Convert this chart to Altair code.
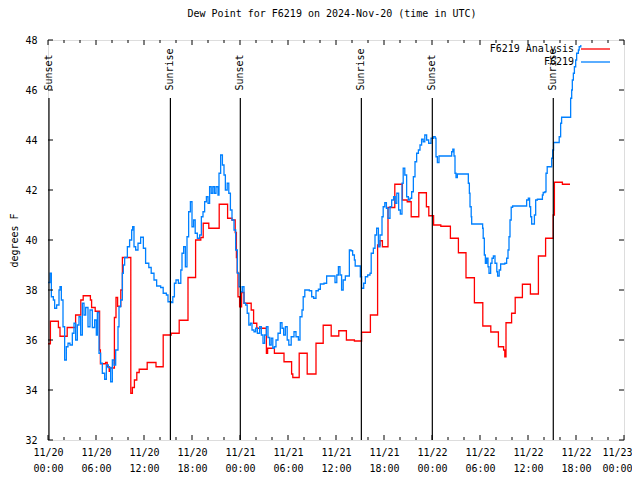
import altair as alt
import pandas as pd

# ---- data (hours since 2024-11-20 00:00 UTC, degrees F) ----
analysis_h = [0.0, 0.3, 1.3, 1.5, 2.4, 3.45, 4.1, 4.4, 5.3, 5.45, 5.9, 6.45, 6.55, 7.2, 7.4, 7.65, 7.8,
              8.3, 8.5, 8.7, 9.1, 9.3, 10.35, 10.55, 10.8, 11.1, 11.4, 12.4, 13.5, 14.4, 15.4, 16.4,
              17.5, 18.45, 19.1, 19.4, 20.1, 21.4, 22.45, 23.0, 23.4, 23.55, 23.65, 23.75, 23.95, 24.2,
              24.5, 25.4, 25.7, 26.1, 27.3, 27.45, 28.3, 29.5, 30.45, 30.6, 31.4, 32.4, 33.5, 34.4,
              35.4, 36.35, 37.3, 38.3, 39.2, 40.3, 41.2, 41.5, 41.8, 42.5, 43.35, 44.3, 44.9, 45.4,
              46.35, 47.3, 47.6, 48.2, 49.1, 50.3, 51.3, 52.25, 53.3, 54.35, 55.35, 56.3, 56.95,
              57.1, 57.25, 57.95, 58.4, 59.3, 60.3, 61.3, 62.2, 63.15, 63.3, 64.3, 65.25]
analysis_v = [35.85, 36.75, 36.5, 36.15, 36.5, 37.0, 37.6, 37.77, 37.6, 37.3, 37.15, 35.6, 35.05, 35.1,
              34.93, 34.75, 34.88, 36.9, 37.7, 37.35, 38.0, 39.3, 33.87, 34.1, 34.4, 34.7, 34.83, 35.1,
              34.93, 36.2, 36.27, 36.79, 38.5, 40.0, 40.1, 40.67, 40.47, 41.43, 40.87, 40.8, 40.3,
              39.3, 38.7, 37.73, 37.33, 37.9, 37.47, 37.2, 36.67, 36.47, 35.47, 35.67, 35.47, 35.13,
              34.64, 34.5, 35.47, 34.64, 35.87, 36.59, 36.16, 36.37, 36.0, 35.96, 36.31, 37.0, 39.8,
              39.97, 39.73, 41.3, 42.23, 41.6, 41.53, 40.93, 41.89, 41.33, 40.97, 40.6, 40.55, 40.07,
              39.49, 38.49, 37.49, 36.56, 36.32, 35.73, 35.6, 35.33, 36.69, 37.07, 37.7, 38.23, 37.84,
              39.36, 40.07, 41.0, 42.31, 42.23, 42.23]

station_h = [0.0, 0.25, 0.42, 0.67, 0.83, 1.08, 1.375, 1.5, 1.67, 1.875, 2.08, 2.29, 2.5, 2.75, 3.04,
             3.25, 3.46, 3.67, 3.875, 4.08, 4.29, 4.5, 4.71, 5.0, 5.25, 5.54, 5.83, 6.04, 6.17, 6.375,
             6.58, 6.79, 7.08, 7.29, 7.54, 7.83, 8.04, 8.25, 8.46, 8.75, 8.875, 9.08, 9.29, 9.42, 9.58,
             9.92, 10.2, 10.46, 10.58, 10.75, 10.96, 11.25, 11.58, 11.92, 12.2, 12.6, 12.9, 13.25,
             13.58, 14.08, 14.4, 14.8, 15.0, 15.4, 15.6, 15.8, 16.0, 16.3, 16.6, 16.75, 16.96, 17.17,
             17.375, 17.58, 17.8, 18.0, 18.2, 18.4, 18.67, 18.96, 19.17, 19.375, 19.58, 19.8, 20.0,
             20.2, 20.4, 20.6, 20.8, 21.0, 21.25, 21.375, 21.58, 21.8, 22.0, 22.17, 22.4, 22.6, 22.8,
             23.0, 23.25, 23.46, 23.67, 23.875, 24.08, 24.3, 24.5, 24.7, 24.9, 25.1, 25.3, 25.5,
             25.75, 25.96, 26.17, 26.46, 26.67, 26.875, 27.08, 27.3, 27.5, 27.7, 27.9, 28.1, 28.3,
             28.5, 28.75, 29.04, 29.25, 29.46, 29.67, 29.9, 30.1, 30.4, 30.75, 31.0, 31.3, 31.5,
             31.75, 31.9, 32.1, 32.67, 32.96, 33.2, 33.5, 33.8, 34.04, 34.5, 34.83, 35.6, 35.875,
             36.1, 36.3, 36.5, 36.7, 36.9, 37.17, 37.46, 37.67, 37.875, 38.08, 38.3, 38.4, 38.9,
             39.04, 39.2, 39.46, 39.67, 39.96, 40.25, 40.4, 40.67, 40.875, 41.08, 41.3, 41.5, 41.75,
             41.9, 42.1, 42.3, 42.5, 42.75, 42.96, 43.2, 43.4, 43.6, 43.83, 44.04, 44.25, 44.4, 44.6,
             44.83, 45.04, 45.25, 45.46, 45.67, 45.875, 46.08, 46.3, 46.5, 46.7, 46.9, 47.1, 47.33,
             47.58, 47.875, 48.17, 48.4, 48.5, 48.67, 48.875, 50.46, 50.6, 50.75, 50.875, 51.0,
             51.17, 52.54, 52.67, 52.75, 52.9, 52.96, 54.33, 54.4, 54.54, 54.67, 54.83, 55.0,
             55.125, 55.33, 55.5, 55.67, 55.875, 56.1, 56.2, 56.4, 56.58, 57.1, 57.33, 57.5, 57.625,
             57.75, 57.9, 58.08, 59.6, 59.83, 60.04, 60.2, 60.33, 60.46, 60.8, 60.96, 61.17, 61.8,
             61.9, 62.125, 62.25, 62.4, 62.96, 63.08, 63.2, 63.9, 64.08, 64.2, 65.33, 65.46, 65.54,
             65.67, 65.8, 65.96, 66.08, 66.3, 66.4, 66.6]
station_v = [38.3, 38.67, 37.73, 37.6, 37.27, 37.4, 38.0, 38.13, 37.6, 36.53, 35.2, 35.73, 35.87, 35.8,
             36.27, 36.67, 36.0, 36.6, 36.93, 36.2, 37.47, 37.0, 37.3, 36.53, 37.2, 36.5, 36.8, 36.2,
             37.1, 35.47, 35.07, 34.67, 34.43, 35.0, 34.9, 34.33, 35.2, 35.0, 35.6, 36.53, 37.33, 37.6,
             38.67, 39.0, 39.3, 39.73, 40.0, 40.4, 40.53, 39.73, 39.6, 39.87, 40.11, 39.67, 39.07,
             38.9, 38.67, 38.4, 38.16, 38.1, 37.87, 37.8, 37.53, 37.5, 37.73, 38.27, 38.4, 38.27,
             38.8, 39.47, 39.73, 38.93, 40.13, 41.13, 41.53, 40.53, 40.8, 40.27, 40.07, 40.2, 40.93,
             41.13, 41.53, 41.73, 41.47, 42.13, 41.87, 42.13, 41.87, 42.13, 41.8, 42.67, 43.4, 43.0,
             42.6, 42.0, 42.27, 41.87, 41.2, 40.8, 40.4, 39.6, 38.67, 38.13, 37.93, 38.13, 37.47,
             37.4, 37.07, 36.6, 36.67, 36.4, 36.33, 36.47, 36.27, 36.53, 36.2, 35.87, 36.2, 36.53,
             36.1, 35.8, 36.07, 35.67, 35.73, 36.0, 36.27, 36.69, 36.47, 36.2, 36.53, 36.0, 35.8,
             36.13, 36.33, 36.13, 36.0, 36.93, 37.2, 37.73, 38.0, 37.97, 37.73, 37.67, 37.97, 38.03,
             38.24, 38.27, 38.56, 38.56, 38.3, 38.6, 38.93, 38.6, 38.0, 38.4, 38.56, 38.56, 39.6,
             39.57, 39.4, 39.2, 38.96, 38.96, 38.53, 38.07, 38.27, 38.53, 38.6, 38.67, 39.47, 39.67,
             40.2, 40.47, 39.73, 40.2, 40.93, 41.33, 41.49, 41.27, 40.87, 41.33, 41.6, 41.73, 41.47,
             41.87, 41.2, 41.04, 42.27, 42.87, 42.6, 41.73, 41.6, 41.67, 41.93, 42.53, 43.13, 43.47,
             43.6, 43.8, 44.03, 43.93, 44.2, 44.0, 43.87, 44.07, 44.13, 44.07, 43.33, 43.1, 43.36,
             43.53, 43.63, 43.36, 42.67, 42.5, 42.64, 42.27, 41.87, 41.33, 40.93, 40.64, 40.47,
             40.07, 39.4, 39.07, 39.27, 38.93, 38.67, 39.07, 39.27, 39.36, 39.07, 38.73, 38.56, 38.8,
             39.04, 39.07, 39.27, 39.6, 40.13, 40.8, 41.31, 41.36, 41.36, 41.6, 41.67, 41.33, 40.93,
             40.64, 41.0, 41.6, 41.63, 41.8, 41.9, 41.93, 42.67, 42.93, 43.27, 43.6, 43.9, 44.13,
             44.67, 44.91, 45.67, 46.0, 46.4, 46.67, 46.93, 47.2, 47.47, 47.6, 47.73, 47.8]

sun_names = ["Sunset", "Sunrise", "Sunset", "Sunrise", "Sunset", "Sunrise"]
sun_hours = [0.12, 15.3, 24.04, 39.17, 48.04, 63.16]

series_names = ["F6219 Analysis", "F6219"]
series_colors = ["#ff0000", "#0080ff"]

x_major = list(range(0, 73, 6))
x_minor = [h for h in range(0, 73, 2) if h % 6 != 0]
y_ticks = list(range(32, 49, 2))

FONT = "DejaVu Sans Mono"
W, H = 576, 400

xs = alt.Scale(domain=[0, 72], nice=False, zero=False)
ys = alt.Scale(domain=[32, 48], nice=False, zero=False)

an_df = pd.DataFrame({"h": analysis_h, "v": analysis_v})
st_df = pd.DataFrame({"h": station_h, "v": station_v})
sun_df = pd.DataFrame({"h": sun_hours, "name": sun_names})
xmaj_df = pd.DataFrame({"h": x_major})
xmin_df = pd.DataFrame({"h": x_minor})
yt_df = pd.DataFrame({"v": y_ticks})

label_expr = ("['11/' + (20 + floor(datum.value / 24)), "
              "(datum.value % 24 < 10 ? '0' : '') + (datum.value % 24) + ':00']")

x_axis = alt.Axis(values=x_major, labelExpr=label_expr, title=None, ticks=False, domain=False,
                  grid=False, labelFont=FONT, labelFontSize=10, labelColor="black",
                  labelPadding=7, labelLineHeight=16, labelFlush=False, labelOverlap=False,
                  labelOffset={"condition": {"test": "datum.value >= 72", "value": -7},
                               "value": 0})
y_axis = alt.Axis(values=y_ticks, title="degrees F", ticks=False, domain=False, grid=False,
                  labelFont=FONT, labelFontSize=10, labelColor="black", labelPadding=11,
                  titleFont=FONT, titleFontSize=10, titleFontWeight="normal", titleColor="black",
                  titleX=-34, titleY=200, titleBaseline="middle", titleAngle=270)


def X():
    return alt.X("h:Q", scale=xs, axis=x_axis)


def Y():
    return alt.Y("v:Q", scale=ys, axis=y_axis)


red = alt.Chart(an_df).mark_line(color=series_colors[0], strokeWidth=1.3,
                                 interpolate="step-after").encode(x=X(), y=Y())
blue = alt.Chart(st_df).mark_line(color=series_colors[1], strokeWidth=1.3,
                                  interpolate="step-after").encode(x=X(), y=Y())

sun_rules = alt.Chart(sun_df).mark_rule(color="black", strokeWidth=1.2).encode(
    x=X(), y=alt.value(58), y2=alt.value(H),
)
sun_text = alt.Chart(sun_df).mark_text(angle=270, align="left", baseline="middle", dx=1.5,
                                       font=FONT, fontSize=10, color="black").encode(
    x=X(), y=alt.value(52), text="name:N",
)


def xticks(df, size):
    bottom = alt.Chart(df).mark_rule(color="black").encode(
        x=X(), y=alt.value(H), y2=alt.value(H - size))
    top = alt.Chart(df).mark_rule(color="black").encode(
        x=X(), y=alt.value(0), y2=alt.value(size))
    return [bottom, top]


ytl = alt.Chart(yt_df).mark_rule(color="black").encode(
    y=Y(), x=alt.value(0), x2=alt.value(5))
ytr = alt.Chart(yt_df).mark_rule(color="black").encode(
    y=Y(), x=alt.value(W - 5), x2=alt.value(W))

leg_text1 = alt.Chart(pd.DataFrame({"t": [series_names[0]]})).mark_text(
    align="right", baseline="middle", font=FONT, fontSize=10, color="black").encode(
    x=alt.value(526), y=alt.value(9), text="t:N")
leg_text2 = alt.Chart(pd.DataFrame({"t": [series_names[1]]})).mark_text(
    align="right", baseline="middle", font=FONT, fontSize=10, color="black").encode(
    x=alt.value(526), y=alt.value(22), text="t:N")
leg_line1 = alt.Chart(pd.DataFrame({"t": [series_names[0]]})).mark_rule(
    color=series_colors[0], strokeWidth=1.3).encode(
    x=alt.value(533), x2=alt.value(562), y=alt.value(9))
leg_line2 = alt.Chart(pd.DataFrame({"t": [series_names[1]]})).mark_rule(
    color=series_colors[1], strokeWidth=1.3).encode(
    x=alt.value(533), x2=alt.value(562), y=alt.value(22))

layers = [red, blue, sun_rules, sun_text] + xticks(xmaj_df, 5) + xticks(xmin_df, 3) + \
         [ytl, ytr, leg_text1, leg_line1, leg_text2, leg_line2]

chart = alt.layer(*layers).properties(
    width=W, height=H,
    title=alt.TitleParams("Dew Point for F6219 on 2024-Nov-20 (time in UTC)", font=FONT,
                          fontSize=10, fontWeight="normal", color="black", offset=16,
                          anchor="middle", frame="group", dx=-4),
    autosize=alt.AutoSizeParams(type="none"),
    padding={"left": 40, "top": 32, "right": 8, "bottom": 32},
).configure_view(stroke="black", strokeWidth=1).configure(background="white")

chart.save("out.html", embed_options={"renderer": "svg", "actions": False})
